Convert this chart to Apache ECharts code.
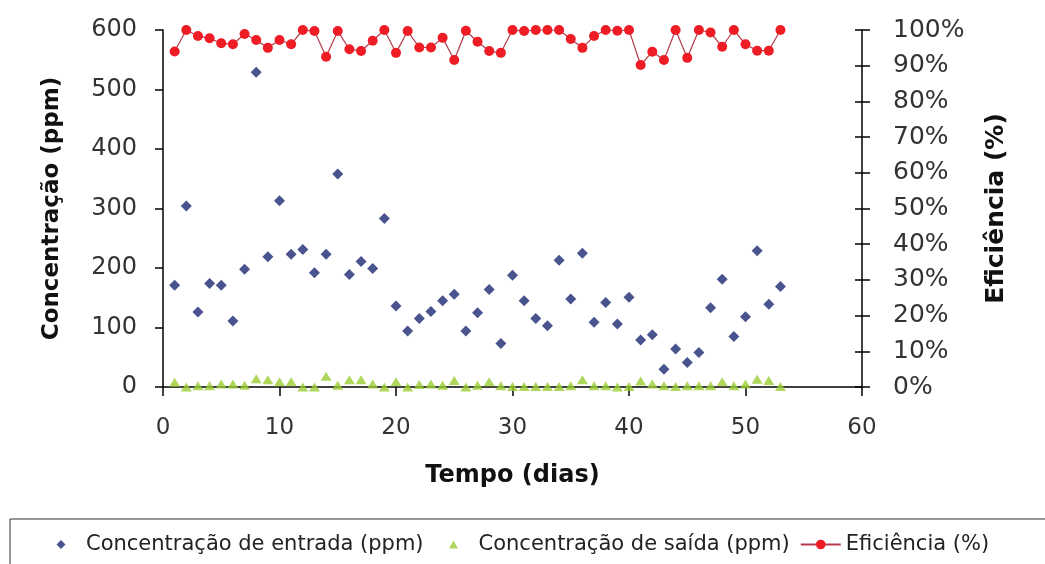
<!DOCTYPE html>
<html>
<head>
<meta charset="utf-8">
<script src="https://cdn.jsdelivr.net/npm/echarts@6/dist/echarts.min.js"></script>
<style>
html,body{margin:0;padding:0;background:#fff;}
#c{width:1045px;height:564px;}
</style>
</head>
<body>
<div id="c"></div>
<script>
var days = [1,2,3,4,5,6,7,8,9,10,11,12,13,14,15,16,17,18,19,20,21,22,23,24,25,26,27,28,29,30,31,32,33,34,35,36,37,38,39,40,41,42,43,44,45,46,47,48,49,50,51,52,53];
var entrada = [171,304,126,174,171,111,198,529,219,313,223,231,192,223,358,189,211,199,283,136,94,115,127,145,156,94,125,164,73,188,145,115,103,213,148,225,109,142,106,151,79,88,30,64,41,58,133,181,85,118,229,139,169];
var saida = [8,0,2,2,5,5,3,14,12,9,9,0,0,18,3,12,12,5,0,9,0,4,5,3,11,0,3,9,2,1,1,1,1,1,2,12,2,2,0,1,10,5,2,1,2,2,2,9,2,5,13,11,1];
var eficiencia = [94,100,98.3,97.7,96.3,96,98.9,97.2,95,97.2,96,100,99.7,92.5,99.7,94.6,94.1,97,100,93.6,99.7,95.1,95.1,97.8,91.6,99.8,96.7,94.1,93.6,100,99.7,100,100,100,97.5,95,98.3,100,99.8,100,90.2,93.9,91.6,100,92.2,100,99.3,95.3,100,96,94.2,94.2,100];
var xTicks = [0,10,20,30,40,50,60];
var names = ['Concentração de entrada (ppm)','Concentração de saída (ppm)','Eficiência (%)'];

function pairs(vals){ return days.map(function(d,i){ return [d, vals[i]]; }); }

var FONT = 'DejaVu Sans';
var DIAMOND_ICON = 'path://M0,0 M40,12 M20,1.5 L24.5,6 L20,10.5 L15.5,6 Z';
var TRIANGLE_ICON = 'path://M0,0 M40,12 M20,2 L24.5,10 L15.5,10 Z';
var chart = echarts.init(document.getElementById('c'), null, {renderer:'canvas'});
chart.setOption({
  backgroundColor:'#ffffff',
  animation:false,
  textStyle:{fontFamily:FONT},
  grid:{left:163,right:183,top:30,bottom:177,containLabel:false},
  legend:{
    left:10, top:519, width:1200,
    padding:[15,120,30,31],
    borderColor:'#333', borderWidth:1,
    itemWidth:40, itemHeight:12, itemGap:10,
    textStyle:{fontFamily:FONT,fontSize:21,color:'#222'},
    data:[
      {name:names[0], icon:DIAMOND_ICON},
      {name:names[1], icon:TRIANGLE_ICON},
      {name:names[2]}
    ]
  },
  xAxis:{
    type:'value', min:xTicks[0], max:xTicks[xTicks.length-1], interval:10,
    name:'Tempo (dias)', nameLocation:'middle', nameGap:77,
    nameTextStyle:{fontFamily:FONT,fontSize:24,fontWeight:'bold',color:'#111'},
    axisLine:{show:true,lineStyle:{color:'#000',width:1.5}},
    axisTick:{show:true,length:9,lineStyle:{color:'#000',width:1.5}},
    axisLabel:{margin:30,fontFamily:FONT,fontSize:23,color:'#333'},
    splitLine:{show:false}
  },
  yAxis:[
    {
      type:'value', min:0, max:600, interval:100, position:'left',
      name:'Concentração (ppm)', nameLocation:'middle', nameGap:99, nameRotate:90,
      nameTextStyle:{fontFamily:FONT,fontSize:23,fontWeight:'bold',color:'#111'},
      axisLine:{show:true,lineStyle:{color:'#000',width:1.5}},
      axisTick:{show:true,length:8,lineStyle:{color:'#000',width:1.5}},
      axisLabel:{margin:26,fontFamily:FONT,fontSize:24,color:'#333'},
      splitLine:{show:false}
    },
    {
      type:'value', min:0, max:100, interval:10, position:'right',
      name:'Eficiência (%)', nameLocation:'middle', nameGap:122, nameRotate:90,
      nameTextStyle:{fontFamily:FONT,fontSize:25,fontWeight:'bold',color:'#111'},
      axisLine:{show:true,lineStyle:{color:'#000',width:1.5}},
      axisTick:{show:true,length:8,lineStyle:{color:'#000',width:1.5}},
      axisLabel:{margin:31,fontFamily:FONT,fontSize:25,color:'#333',formatter:'{value}%'},
      splitLine:{show:false}
    },
    {
      type:'value', min:0, max:100, interval:10, position:'right',
      axisLine:{show:false},
      axisTick:{show:true,inside:true,length:7,lineStyle:{color:'#000',width:1.5}},
      axisLabel:{show:false},
      splitLine:{show:false}
    }
  ],
  series:[
    {
      name:names[0], type:'scatter', yAxisIndex:0,
      symbol:'diamond', symbolSize:11, symbolKeepAspect:true,
      itemStyle:{color:'#1b2870'},
      data:pairs(entrada)
    },
    {
      name:names[1], type:'scatter', yAxisIndex:0,
      symbol:'triangle', symbolSize:[11,9], symbolKeepAspect:true,
      itemStyle:{color:'#9acd32'},
      data:pairs(saida)
    },
    {
      name:names[2], type:'line', yAxisIndex:1,
      symbol:'circle', symbolSize:10, showSymbol:true,
      lineStyle:{color:'#b33a4a',width:1.2},
      itemStyle:{color:'#ee1c25'},
      data:pairs(eficiencia)
    }
  ]
});
</script>
</body>
</html>
